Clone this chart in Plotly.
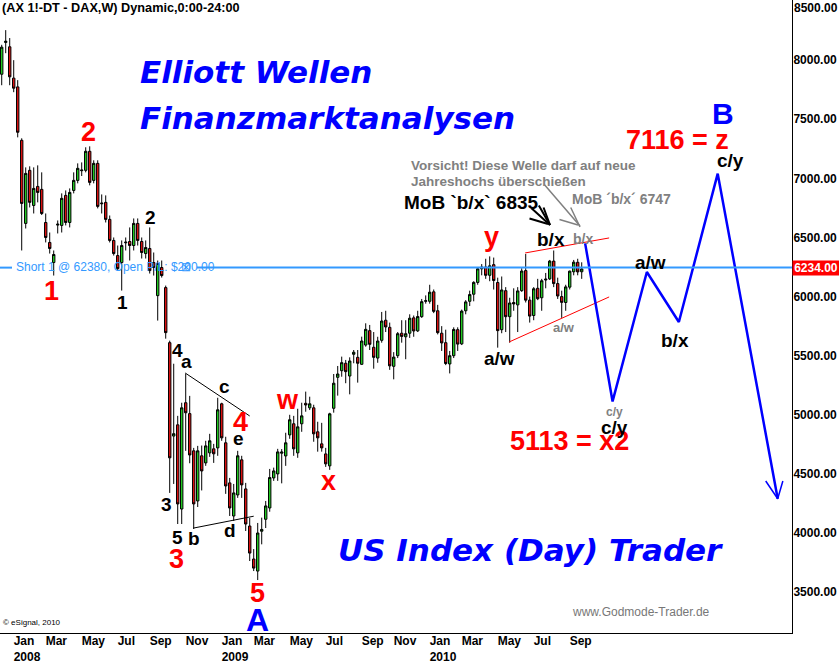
import pandas as pd
import plotly.graph_objects as go

# ---------------- data ----------------
week_start = "2007-12-17"
opens = [7881, 8150, 8113, 7848, 7774, 7322, 6619, 7068, 6771, 6932,
         6907, 6627, 6458, 6288, 6605, 6602, 6856, 6627, 6898, 6983,
         7065, 7068, 7229, 6983, 7127, 6785, 6797, 6653, 6475, 6347,
         6288, 6455, 6466, 6432, 6619, 6466, 6364, 6407, 6288, 6008,
         6246, 6076, 5610, 4820, 4915, 4203, 5102, 5010, 4695, 4271,
         4653, 4593, 4678, 4712, 4720, 5093, 4763, 4424, 4144, 4322,
         4619, 4373, 4059, 3780, 3678, 4015, 4116, 4212, 4466, 4500,
         4675, 4652, 4830, 4924, 4678, 4924, 5097, 5059, 5059, 4856,
         4754, 4669, 4568, 5055, 5317, 5373, 5436, 5328, 5512, 5486,
         5427, 5590, 5712, 5571, 5480, 5630, 5800, 5740, 5410, 5500,
         5690, 5660, 5690, 5820, 5710, 5830, 5960, 5960, 6040, 5880,
         5690, 5610, 5430, 5500, 5720, 5600, 5880, 5960, 6020, 6120,
         6235, 6250, 6180, 6270, 6119, 5720, 6050, 5830, 5950, 5930,
         6050, 6220, 5970, 5840, 6070, 5990, 6140, 6150, 6300, 6110,
         6000, 5950, 6080, 6210, 6290, 6210]
highs = [8130, 8254, 8187, 8000, 7831, 7339, 7093, 7102, 7093, 7110,
         7051, 6703, 6542, 6390, 6644, 6873, 6898, 6915, 7051, 7127,
         7135, 7263, 7271, 7153, 7153, 6864, 6856, 6686, 6500, 6432,
         6475, 6500, 6585, 6661, 6661, 6500, 6475, 6585, 6373, 6305,
         6305, 6093, 5627, 5432, 4991, 5102, 5347, 5160, 4720, 4737,
         4740, 4780, 4839, 4754, 5144, 5102, 4814, 4466, 4415, 4695,
         4653, 4424, 4127, 3864, 4085, 4130, 4271, 4542, 4553, 4712,
         4710, 4848, 5000, 4991, 5051, 5102, 5196, 5153, 5085, 4941,
         4932, 4720, 5017, 5345, 5413, 5492, 5464, 5486, 5548, 5548,
         5661, 5774, 5760, 5700, 5660, 5870, 5880, 5780, 5530, 5700,
         5800, 5800, 5850, 5840, 5880, 5980, 6010, 6100, 6060, 5930,
         5750, 5720, 5540, 5740, 5740, 5890, 5970, 6050, 6130, 6240,
         6275, 6320, 6340, 6330, 6160, 6170, 6080, 5990, 6070, 6080,
         6240, 6360, 6000, 6080, 6150, 6150, 6200, 6310, 6390, 6160,
         6050, 6100, 6220, 6310, 6320, 6290]
lows = [7788, 8059, 7788, 7729, 7347, 6390, 6576, 6754, 6703, 6797,
        6690, 6458, 6364, 6178, 6534, 6542, 6602, 6585, 6873, 6958,
        7020, 7051, 6941, 6958, 6746, 6703, 6627, 6458, 6347, 6220,
        6051, 6390, 6305, 6390, 6432, 6322, 6322, 6195, 6178, 5797,
        6161, 5644, 4339, 4415, 4076, 4076, 4695, 4590, 4034, 4220,
        4360, 4568, 4644, 4593, 4653, 4780, 4331, 4144, 4102, 4297,
        4297, 4017, 3763, 3678, 3602, 3904, 4042, 4180, 4441, 4441,
        4420, 4568, 4797, 4653, 4636, 4856, 5026, 5040, 4772, 4688,
        4688, 4559, 4534, 5018, 5162, 5322, 5267, 5173, 5436, 5272,
        5421, 5576, 5548, 5390, 5440, 5610, 5700, 5380, 5300, 5480,
        5610, 5470, 5650, 5660, 5700, 5820, 5940, 5940, 5860, 5680,
        5540, 5420, 5350, 5480, 5540, 5590, 5850, 5920, 5960, 6100,
        6180, 6150, 6130, 6060, 5568, 5690, 5700, 5610, 5880, 5700,
        6040, 5950, 5780, 5800, 5970, 5880, 6070, 6140, 6080, 5980,
        5820, 5880, 6060, 6180, 6180, 6150]
closes = [8110, 8160, 7859, 7763, 7390, 6788, 7042, 6797, 6915, 6881,
          6703, 6500, 6407, 6356, 6612, 6831, 6627, 6881, 6983, 7085,
          7070, 7229, 6966, 7127, 6763, 6790, 6653, 6475, 6364, 6237,
          6432, 6460, 6432, 6619, 6475, 6373, 6415, 6220, 6246, 6280,
          6178, 5695, 4636, 4840, 4246, 5059, 5017, 4660, 4246, 4695,
          4525, 4737, 4780, 4670, 5042, 4805, 4398, 4212, 4339, 4653,
          4407, 4076, 3830, 3703, 4000, 4030, 4229, 4469, 4525, 4686,
          4685, 4763, 4958, 4712, 4898, 4991, 5083, 5093, 4839, 4805,
          4720, 4585, 5008, 5267, 5345, 5441, 5365, 5455, 5529, 5436,
          5624, 5723, 5596, 5486, 5624, 5793, 5743, 5414, 5488, 5686,
          5663, 5686, 5817, 5709, 5831, 5957, 5965, 6037, 5875, 5695,
          5608, 5434, 5500, 5722, 5598, 5877, 5955, 6017, 6120, 6235,
          6250, 6180, 6260, 6136, 5712, 6056, 5830, 5946, 5938, 6048,
          6216, 5970, 5835, 6066, 5982, 6134, 6147, 6300, 6110, 6005,
          5951, 6082, 6215, 6291, 6209, 6234]

# projected wave path (blue)
proj_dates = ["2010-10-03", "2010-11-20", "2011-01-19", "2011-03-16", "2011-05-23", "2011-09-05"]
proj_values = [6450, 5113, 6208, 5785, 7040, 4290]

# trend / triangle lines
red_upper_dates = ["2010-06-20", "2010-11-14"]
red_upper_values = [6369, 6496]
red_lower_dates = ["2010-05-23", "2010-11-14"]
red_lower_values = [5616, 5997]
tri_upper_dates = ["2008-11-02", "2009-02-23"]
tri_upper_values = [5354, 4990]
tri_lower_dates = ["2008-11-16", "2009-03-02"]
tri_lower_values = [4041, 4142]

short_level = 6245
last_price = 6234

y_ticks = [3500, 4000, 4500, 5000, 5500, 6000, 6500, 7000, 7500, 8000]
x_tick_dates = ["2008-01-06", "2008-03-02", "2008-05-04", "2008-07-06", "2008-08-31", "2008-11-02",
                "2009-01-04", "2009-03-01", "2009-05-03", "2009-07-05", "2009-09-06", "2009-11-01",
                "2010-01-03", "2010-02-28", "2010-05-02", "2010-07-04", "2010-09-05"]
x_tick_text = ["Jan<br>2008", "Mar", "May", "Jul", "Sep", "Nov",
               "Jan<br>2009", "Mar", "May", "Jul", "Sep", "Nov",
               "Jan<br>2010", "Mar", "May", "Jul", "Sep"]

dates = pd.date_range(week_start, periods=len(opens), freq="W-MON")

# ---------------- figure ----------------
FONT = "Liberation Sans, Arial, sans-serif"
WIDE = "DejaVu Sans, Verdana, sans-serif"
W, H = 792, 633  # plot area in px


def P(x, y):
    return x / W, 1 - y / H


fig = go.Figure()
fig.add_trace(go.Candlestick(
    x=dates, open=opens, high=highs, low=lows, close=closes,
    increasing=dict(line=dict(color="black", width=1), fillcolor="#22cc22"),
    decreasing=dict(line=dict(color="black", width=1), fillcolor="#dd1111"),
    whiskerwidth=0, hoverinfo="skip", showlegend=False))

line_traces = [
    (tri_upper_dates, tri_upper_values, "black", 1),
    (tri_lower_dates, tri_lower_values, "black", 1),
    (red_upper_dates, red_upper_values, "#ff0000", 1),
    (red_lower_dates, red_lower_values, "#ff0000", 1),
    (proj_dates, proj_values, "#0000ff", 2.5),
]
for xs, ys, col, wd in line_traces:
    fig.add_trace(go.Scatter(x=xs, y=ys, mode="lines", line=dict(color=col, width=wd),
                             hoverinfo="skip", showlegend=False))

# arrow head at the end of the projection
end_d = pd.Timestamp(proj_dates[-1])
end_v = proj_values[-1]
fig.add_trace(go.Scatter(
    x=[end_d - pd.Timedelta(days=21), end_d, end_d + pd.Timedelta(days=9)],
    y=[end_v + 150, end_v, end_v + 150], mode="lines",
    line=dict(color="#0000ff", width=1.5), hoverinfo="skip", showlegend=False))

ann = []


def label(text, x, y, size, color, bold=True, italic=False, anchor="center", family=FONT):
    px, py = P(x, y)
    f = dict(family=family, size=size, color=color)
    if bold:
        f["weight"] = "bold"
    if italic:
        f["style"] = "italic"
    ann.append(dict(text=text, x=px, y=py, xref="paper", yref="paper", showarrow=False,
                    font=f, xanchor=anchor, yanchor="middle"))


def arrow(x0, y0, x1, y1, color, head=0, width=1.5):
    hx, hy = P(x1, y1)
    ann.append(dict(text="", x=hx, y=hy, xref="paper", yref="paper", ax=x0 - x1, ay=y0 - y1,
                    axref="pixel", ayref="pixel", showarrow=True, arrowhead=head,
                    arrowwidth=width, arrowcolor=color, arrowsize=1))


# headline texts
label("(AX 1!-DT - DAX,W) Dynamic,0:00-24:00", 0, 8, 12.7, "black", anchor="left")
label("Elliott Wellen", 138, 72, 31, "#0000ff", italic=True, anchor="left", family=WIDE)
label("Finanzmarktanalysen", 138, 118, 31, "#0000ff", italic=True, anchor="left", family=WIDE)
label("US Index (Day) Trader", 336, 550, 31, "#0000ff", italic=True, anchor="left", family=WIDE)
label("© eSignal, 2010", 1, 622, 8, "black", bold=False, anchor="left")
label("www.Godmode-Trader.de", 641, 612, 12, "#777777", bold=False)

# red wave labels
RED = "#ff0000"
for t, x, y in [("1", 51, 291), ("2", 88, 132), ("3", 176, 559), ("4", 240, 422), ("5", 257, 593),
                ("w", 287, 400), ("x", 328, 481), ("y", 491, 237),
                ("7116 = z", 677, 140), ("5113 = x2", 569, 441)]:
    label(t, x, y, 27, RED)

# blue big labels
label("A", 257, 620, 32, "#0000ff")
label("B", 723, 113, 30, "#0000ff")

# black labels
for t, x, y in [("1", 122, 302), ("2", 150, 217), ("3", 166, 505), ("4", 177, 351), ("a", 186, 361),
                ("c", 224, 386), ("e", 238, 438), ("5", 177, 537), ("b", 194, 538), ("d", 230, 530),
                ("a/w", 500, 358), ("b/x", 551, 240), ("a/w", 650, 262), ("b/x", 675, 340),
                ("c/y", 730, 161), ("c/y", 614, 428)]:
    label(t, x, y, 19, "black")
label("MoB `b/x` 6835", 402, 202, 19, "black", anchor="left")

# grey labels
GREY = "#808080"
label("Vorsicht! Diese Welle darf auf neue", 409, 166, 13.5, GREY, anchor="left")
label("Jahreshochs überschießen", 409, 182, 13.5, GREY, anchor="left")
label("MoB ´b/x´ 6747", 570, 199, 14, GREY, anchor="left")
label("b/x", 583, 239, 14, GREY)
label("a/w", 564, 328, 13, GREY)
label("c/y", 614, 412, 12, GREY)

# arrows
arrow(530, 207, 550, 225, "black", head=0, width=2)
arrow(538, 204, 550, 225, "black", head=0, width=2)
arrow(543, 206, 550, 225, "black", head=0, width=2)
arrow(528, 218, 548, 224, "black", head=0, width=2)
arrow(543, 183, 580, 226, GREY, head=0, width=1.5)
arrow(570, 206, 580, 227, GREY, head=0, width=1.5)
arrow(558, 219, 578, 225, GREY, head=0, width=1.5)

# short position line text
label("Short 1 @ 62380, Open P/L: $200.00", 14, 267, 12, "#3399ff", bold=False, anchor="left")
label("⊠", 186, 267, 12, "#3399ff", bold=False)

# axis top label and last price box
ann.append(dict(text="<b>8500.00</b>", x=1, y=1 - 8 / H, xref="paper", yref="paper",
                showarrow=False, xanchor="left", yanchor="middle", xshift=0,
                font=dict(family=FONT, size=12, color="black")))
ann.append(dict(text="<b>%.2f</b>" % last_price, x=1, y=short_level, xref="paper", yref="y",
                showarrow=False, xanchor="left", yanchor="middle", xshift=0,
                bgcolor="#ff0000", borderpad=0, width=46, align="center",
                font=dict(family=FONT, size=12, color="white")))

shapes = [
    dict(type="line", xref="paper", yref="y", x0=0, x1=12 / W, y0=short_level, y1=short_level,
         line=dict(color="#3399ff", width=2)),
    dict(type="line", xref="paper", yref="y", x0=197 / W, x1=1, y0=short_level, y1=short_level,
         line=dict(color="#3399ff", width=2)),
]

fig.update_layout(
    width=839, height=664,
    margin=dict(l=0, r=47, t=0, b=31, autoexpand=False),
    paper_bgcolor="white", plot_bgcolor="white",
    annotations=ann, shapes=shapes,
    boxgap=0.15,
    xaxis=dict(type="date", range=["2007-12-14", "2011-09-30"], rangeslider=dict(visible=False),
               showgrid=False, zeroline=False, showline=True, linecolor="black", linewidth=1,
               ticks="", ticklen=0, tickvals=x_tick_dates, ticktext=x_tick_text, tickangle=0,
               ticklabelposition="outside right", automargin=False, ticklabelstandoff=-3,
               tickfont=dict(family=FONT, size=12, color="black", weight="bold")),
    yaxis=dict(side="right", range=[3154, 8509], showgrid=False, zeroline=False,
               showline=True, linecolor="black", linewidth=1, ticks="", ticklen=0,
               tickvals=y_ticks, tickformat=".2f", automargin=False, ticklabelstandoff=-2,
               tickfont=dict(family=FONT, size=12, color="black", weight="bold")),
)

fig.write_html("out.html", config={"displayModeBar": False},
               post_script="document.body.style.margin='0';document.body.style.overflow='hidden';")
